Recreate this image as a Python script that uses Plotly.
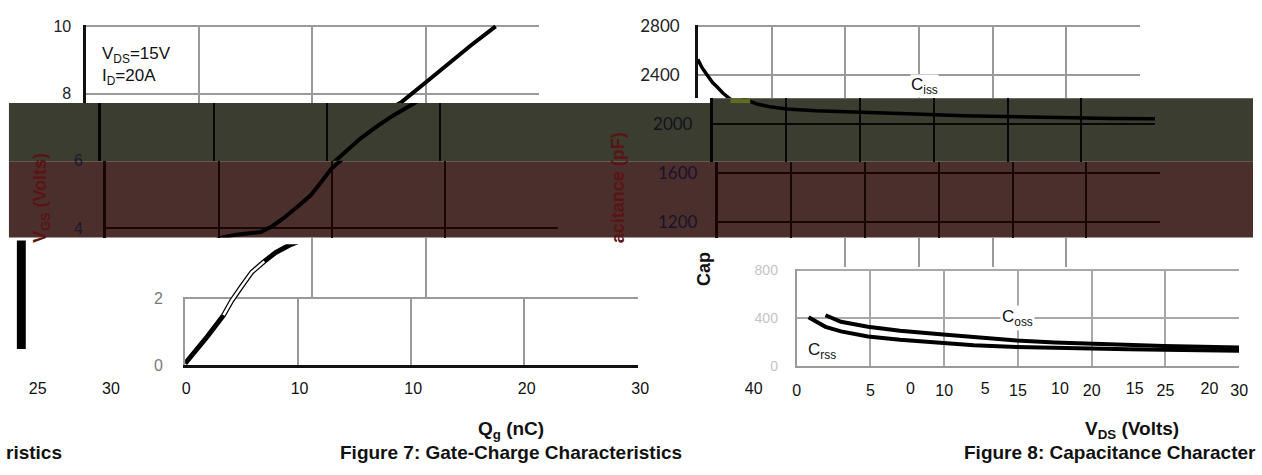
import plotly.graph_objects as go

# ---------------- data ----------------
qg_nc = [0, 1.0, 2.0, 3.4, 4.1, 5.0, 5.9, 7.0, 8.0, 9.2, 10.3, 11.5, 12.7, 13.7, 14.7, 15.7,
         16.9, 18.1, 19.0, 19.9, 20.9, 22.0, 22.9, 24.3, 25.8, 27.9, 29.9, 31.9, 34.0, 36.2]
vgs_volts = [0.05, 0.45, 0.87, 1.49, 1.91, 2.35, 2.77, 3.09, 3.35, 3.57, 3.72, 3.80, 3.84, 3.88, 4.05, 4.29,
             4.62, 4.97, 5.35, 5.75, 6.05, 6.40, 6.65, 7.00, 7.34, 7.75, 8.30, 8.86, 9.43, 10.0]

vds_ciss = [0, 0.3, 0.6, 1.0, 1.3, 1.7, 2.2, 3.0, 4.0, 5.0, 7.0, 10, 13.7, 17, 20.4, 24, 27.1, 30]
ciss_pf = [2530, 2460, 2408, 2340, 2306, 2255, 2205, 2165, 2140, 2125, 2110, 2095, 2083, 2070, 2060, 2052, 2047, 2045]
vds_coss = [1.95, 3, 4.83, 7, 9.93, 12, 14.9, 17.5, 19.9, 22.5, 24.9, 27.5, 30]
coss_pf = [424, 370, 328, 295, 264, 240, 214, 198, 186, 176, 168, 162, 156]
vds_crss = [0.8, 1.3, 1.95, 3, 3.96, 4.83, 7, 9.93, 12, 14.9, 17.5, 19.9, 22.5, 24.9, 27.5, 30]
crss_pf = [408, 370, 328, 290, 264, 248, 220, 192, 175, 160, 151, 144, 140, 136, 132, 128]

qg_ticks = [0, 10, 20, 30, 40]
vgs_ticks = [0, 2, 4, 6, 8, 10]
vds_ticks = [0, 5, 10, 15, 20, 25, 30]
cap_ticks = [0, 400, 800, 1200, 1600, 2000, 2400, 2800]
qg_label_vals = [0, 10, 20, 30, 40, 50]
qg_label_text = ["0", "10", "10", "20", "30", "40"]
fig6_label_vals = [25, 30]
fig6_label_text = ["25", "30"]
vds_ghost_vals = [0, 5, 10, 15, 20]
vds_ghost_text = ["0", "5", "10", "15", "20"]

# hollow part of the gate-charge line
hollow_qg = qg_nc[3:8]
hollow_vgs = vgs_volts[3:8]

# ---------------- layout helpers ----------------
W, H = 1262, 475
fig = go.Figure()
n_axes = [0]

def new_axes(x0, x1, ytop, ybot, xrange, yrange, xopts=None, yopts=None):
    n_axes[0] += 1
    k = n_axes[0]
    sfx = '' if k == 1 else str(k)
    base = dict(showgrid=False, zeroline=False, showline=False, showticklabels=False,
                ticks='', fixedrange=True)
    xa = dict(base, domain=[x0 / W, x1 / W], range=xrange, anchor='y' + sfx)
    ya = dict(base, domain=[1 - ybot / H, 1 - ytop / H], range=yrange, anchor='x' + sfx)
    xa.update(xopts or {})
    ya.update(yopts or {})
    fig.update_layout(**{'xaxis' + sfx: xa, 'yaxis' + sfx: ya})
    fig.add_trace(go.Scatter(x=[], y=[], xaxis='x' + sfx, yaxis='y' + sfx,
                             showlegend=False, hoverinfo='skip'))
    return 'x' + sfx, 'y' + sfx

def line(xa, ya, xs, ys, color='black', width=4):
    fig.add_trace(go.Scatter(x=xs, y=ys, mode='lines', xaxis=xa, yaxis=ya,
                             line=dict(color=color, width=width),
                             showlegend=False, hoverinfo='skip'))

def label_row(xa, ya, vals, texts, font):
    fig.add_trace(go.Scatter(x=vals, y=[0.5] * len(vals), text=texts, mode='text',
                             textposition='middle center', textfont=font, cliponaxis=False,
                             xaxis=xa, yaxis=ya, showlegend=False, hoverinfo='skip'))

OLIVE = '#3a3d2f'
BROWN = '#4b2f2d'
GRAY = '#9a9a9a'
STYLE = {
    'white': dict(grid=GRAY, axis='#111111'),
    'olive': dict(grid='#070707', axis='#050505'),
    'brown': dict(grid='#1a0505', axis='#1a0505'),
}

# background bands
fig.add_shape(type='rect', xref='paper', yref='paper', x0=5 / W, x1=1, y0=1 - 158 / H, y1=1 - 97 / H,
              fillcolor=OLIVE, line_width=0, layer='below')
fig.add_shape(type='rect', xref='paper', yref='paper', x0=716 / W, x1=1, y0=1 - 97 / H, y1=1 - 92 / H,
              fillcolor=OLIVE, line_width=0, layer='below')
fig.add_shape(type='rect', xref='paper', yref='paper', x0=5 / W, x1=1, y0=1 - 237 / H, y1=1 - 158 / H,
              fillcolor=BROWN, line_width=0, layer='below')
fig.add_shape(type='rect', xref='paper', yref='paper', x0=13 / W, x1=22 / W, y0=1 - 353 / H, y1=1 - 240 / H,
              fillcolor='black', line_width=0, layer='above')
fig.add_shape(type='rect', xref='paper', yref='paper', x0=734 / W, x1=754 / W, y0=1 - 97 / H, y1=1 - 92 / H,
              fillcolor='#5f6b22', line_width=0, layer='above')

ARIAL = 'Liberation Sans, Arial'
CAL = 'Lato, Liberation Sans'
LBL = dict(family=ARIAL, size=16, color='#111')

# ---------------- Figure 7 : gate charge ----------------
LX0, LPX = 83, 11.43      # px of Qg=0, px per nC
LY0, LPV = 367, 35.0      # px of VGS=0, px per volt

def left_strip(top, bot, shift, style, curve=True, yticks=True, tickcolor='#222', standoff=8,
               gridvals=None, y0=LY0, axisline=True, ygrid=True, xgrid=True):
    st = STYLE[style]
    x0 = LX0 + shift
    x1 = x0 + 40 * LPX
    yr = [(y0 - bot) / LPV, (y0 - top) / LPV]
    xo = dict(showgrid=xgrid, tickvals=gridvals if gridvals is not None else qg_ticks,
              gridcolor=st['grid'], gridwidth=2)
    yo = dict(showgrid=ygrid, tickvals=vgs_ticks, gridcolor=st['grid'], gridwidth=2,
              showline=axisline, linecolor=st['axis'], linewidth=2.5,
              showticklabels=yticks, ticklabelstandoff=standoff,
              tickfont=dict(family=ARIAL, size=16, color=tickcolor))
    xa, ya = new_axes(x0, x1, top, bot, [0, 40], yr, xo, yo)
    if curve:
        line(xa, ya, qg_nc, vgs_volts)
    return xa, ya

lt_x, lt_y = left_strip(15.5, 97, 0, 'white', standoff=9)
left_strip(97, 157, 15, 'olive', yticks=False)
left_strip(157, 237, 20, 'brown', tickcolor='#1c1a2c', standoff=17)
left_strip(237, 300, 0, 'white', curve=False, yticks=False, gridvals=[20, 30, 40],
           axisline=False, ygrid=False)
# lower displaced part (grid)
sg_x, sg_y = new_axes(183, 183 + 40 * LPX, 298.5, 370, [0, 40], [0, 71.5 / LPV],
                      dict(showgrid=True, tickvals=qg_ticks, gridcolor=GRAY, gridwidth=2,
                           showline=True, linecolor='#111', linewidth=3),
                      dict(showgrid=True, tickvals=vgs_ticks, gridcolor=GRAY, gridwidth=2,
                           showline=True, linecolor=GRAY, linewidth=2,
                           showticklabels=True, ticklabelstandoff=17,
                           tickfont=dict(family=ARIAL, size=16, color='#7a7a7a')))
# lower displaced part (curve)
sc_x, sc_y = new_axes(183, 183 + 40 * LPX, 244, 370, [0, 40], [0, 126 / LPV])
line(sc_x, sc_y, qg_nc, vgs_volts, width=5)
line(sc_x, sc_y, hollow_qg, hollow_vgs, color='white', width=2.5)

# tick label rows along the bottom (centred on y = 396 px)
qa_x, qa_y = new_axes(184, 184 + 51.2 * 11.47, 390, 402, [0, 51.2], [0, 1])
label_row(qa_x, qa_y, qg_label_vals, qg_label_text, LBL)
f6_x, f6_y = new_axes(0, 130, 390, 402, [25 - 34 / 14.8, 25 + 96 / 14.8], [0, 1])
label_row(f6_x, f6_y, fig6_label_vals, fig6_label_text, LBL)

fig.add_annotation(xref=lt_x, yref=lt_y, x=(97 - LX0) / LPX, y=(LY0 - 33) / LPV,
                   xanchor='left', yanchor='top', align='left', showarrow=False,
                   text='V<sub>DS</sub>=15V<br>I<sub>D</sub>=20A',
                   font=dict(family=ARIAL, size=17, color='#111'))

# ---------------- Figure 8 : capacitance ----------------
RX0, RPX = 701, 14.9      # px of VDS=0, px per volt
RY0, RPC = 374, 0.1275    # px of C=0, px per pF

def right_strip(top, bot, shift, style, curve=True, yticks=True, tickcolor='#222', standoff=13,
                gridvals=None, axisline=True, ygrid=True):
    st = STYLE[style]
    x0 = RX0 + shift
    x1 = x0 + 30 * RPX
    yr = [(RY0 - bot) / RPC, (RY0 - top) / RPC]
    xo = dict(showgrid=True, tickvals=gridvals if gridvals is not None else vds_ticks,
              gridcolor=st['grid'], gridwidth=2)
    yo = dict(showgrid=ygrid, tickvals=cap_ticks, gridcolor=st['grid'], gridwidth=2,
              showline=axisline, linecolor=st['axis'], linewidth=2.5,
              showticklabels=yticks, ticklabelstandoff=standoff,
              tickfont=dict(family=CAL, size=17, color=tickcolor))
    xa, ya = new_axes(x0, x1, top, bot, [0, 30], yr, xo, yo)
    if curve:
        line(xa, ya, vds_ciss, ciss_pf, width=3.5)
    return xa, ya

rt_x, rt_y = right_strip(15.5, 92, 0, 'white', standoff=12)
right_strip(92, 158, 15, 'olive', tickcolor='#12121e', standoff=14)
right_strip(158, 237, 20, 'brown', tickcolor='#1a1228', standoff=14)
right_strip(237, 268, 0, 'white', curve=False, yticks=False, gridvals=[10, 15, 20, 25, 30],
            axisline=False, ygrid=False)

rs_x, rs_y = new_axes(
    801, 801 + 30 * RPX, 269.5, 371, [0, 30], [0, 101.5 / 0.125],
    dict(showgrid=True, tickvals=vds_ticks, gridcolor='#a8a8a8', gridwidth=1.5,
         showline=True, linecolor='#9a9a9a', linewidth=2,
         showticklabels=True, ticklabelstandoff=9, tickfont=LBL),
    dict(showgrid=True, tickvals=cap_ticks, gridcolor='#a8a8a8', gridwidth=1.5,
         showline=True, linecolor='#9a9a9a', linewidth=2,
         showticklabels=True, ticklabelstandoff=14,
         tickfont=dict(family=ARIAL, size=14, color='#c4c4cc')))
line(rs_x, rs_y, vds_coss, coss_pf, width=4)
line(rs_x, rs_y, vds_crss, crss_pf, width=4)

vg_x, vg_y = new_axes(900, 1262, 390, 402, [-16 / 15.1, 346 / 15.1], [0, 1])
label_row(vg_x, vg_y, vds_ghost_vals, vds_ghost_text, LBL)

fig.add_annotation(xref=rt_x, yref=rt_y, x=15.4, y=(RY0 - 92) / RPC, xanchor='center', yanchor='bottom',
                   showarrow=False, text='C<sub>iss</sub>', bgcolor='white', borderpad=0,
                   font=dict(family=ARIAL, size=17, color='#111'))
fig.add_annotation(xref=rs_x, yref=rs_y, x=15, y=400, showarrow=False, text='C<sub>oss</sub>',
                   bgcolor='white', borderpad=1, font=dict(family=ARIAL, size=17, color='#111'))
fig.add_annotation(xref=rs_x, yref=rs_y, x=1.7, y=130, showarrow=False, text='C<sub>rss</sub>',
                   font=dict(family=ARIAL, size=17, color='#111'))

# ---------------- titles / captions ----------------
def ptext(x, y, text, size=16, color='#111', anchor='center', angle=0):
    fig.add_annotation(xref='paper', yref='paper', x=x / W, y=1 - y / H, text=text,
                       showarrow=False, xanchor=anchor, yanchor='middle', textangle=angle,
                       font=dict(family=ARIAL, size=size, color=color))

ptext(512, 438, '<b>Q<sub>g</sub> (nC)</b>', 19)
ptext(1140, 438, '<b>V<sub>DS</sub> (Volts)</b>', 19)
ptext(512, 461, '<b>Figure 7: Gate-Charge Characteristics</b>', 19)
ptext(968, 461, '<b>Figure 8: Capacitance Character</b>', 19, anchor='left')
ptext(0, 461, '<b>ristics</b>', 19, anchor='left')
ptext(38, 196, '<b>V<sub>GS</sub> (Volts)</b>', 18, color='#5a1414', angle=-90)
ptext(620, 185, '<b>acitance (pF)</b>', 18, color='#5a1414', angle=-90)
ptext(707, 270, '<b>Cap</b>', 18, color='#111', angle=-90)

fig.update_layout(width=W, height=H, margin=dict(l=0, r=0, t=0, b=0),
                  paper_bgcolor='white', plot_bgcolor='rgba(0,0,0,0)', showlegend=False)

fig.write_html('out.html')
